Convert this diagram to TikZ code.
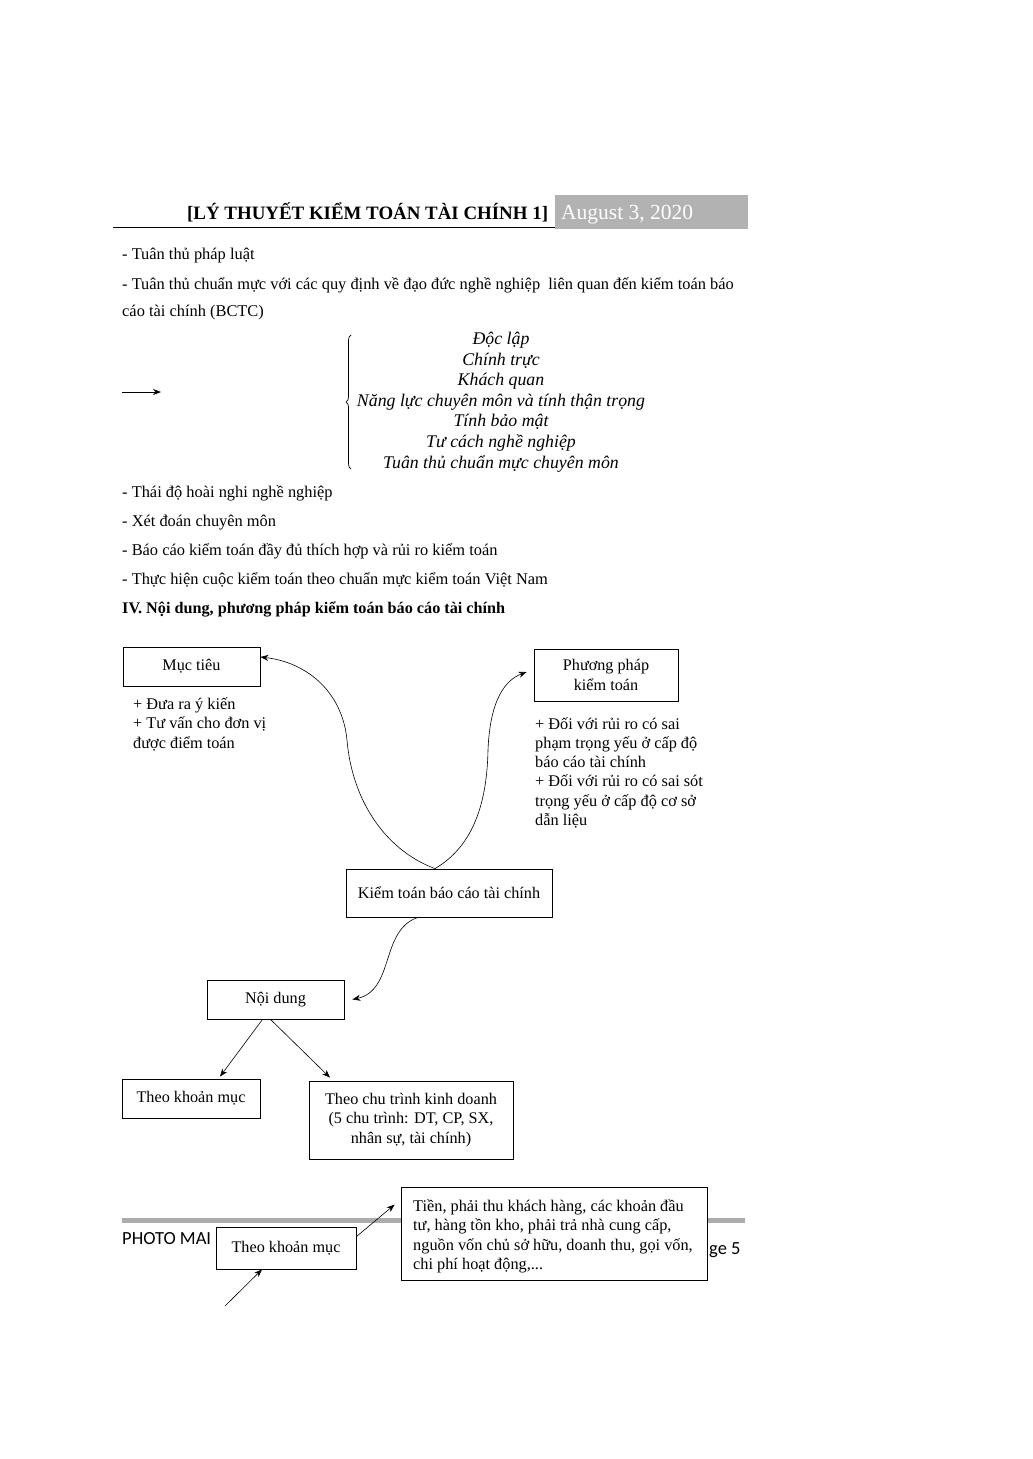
\documentclass[tikz,border=0pt]{standalone}
\usepackage{fontspec}
\setmainfont{Liberation Serif}
\newfontfamily\calib{Carlito}
\usetikzlibrary{arrows.meta,decorations.pathreplacing}
\begin{document}
\begin{tikzpicture}[x=1pt,y=-1pt,
  txt/.style={anchor=base west,inner sep=0,font=\fontsize{16.4}{19}\selectfont},
  itl/.style={anchor=base,inner sep=0,font=\fontsize{17.8}{20}\selectfont\itshape},
  box/.style={draw,line width=0.8pt,fill=white,inner sep=0,align=center,font=\fontsize{16.2}{19.6}\selectfont},
  sm/.style={anchor=base west,inner sep=0,font=\fontsize{16.3}{19}\selectfont},
  arr/.style={-{Stealth[length=8pt,width=6pt]},line width=0.6pt}]
\useasboundingbox (0,0) rectangle (1033,1459);
\fill[white] (0,0) rectangle (1033,1459);
% header
\node[anchor=base west,inner sep=0,font=\fontsize{18.9}{21}\selectfont\bfseries] (title) at (187,219) {[LÝ THUYẾT KIỂM TOÁN TÀI CHÍNH 1]};
\node[fill=gray!60,minimum width=193pt,minimum height=34pt,inner sep=0,anchor=north west] (date) at (555,195) {};
\node[anchor=base west,inner sep=0,text=white,font=\fontsize{21.5}{22}\selectfont] (datet) at (561,219) {August 3, 2020};
\draw[line width=0.8pt] (113,227.5) -- (555,227.5);
% bullet text
\node[txt] (l1) at (122,259) {- Tuân thủ pháp luật};
\node[txt] (l2) at (122,289) {- Tuân thủ chuẩn mực với các quy định về đạo đức nghề nghiệp\ \ liên quan đến kiểm toán báo};
\node[txt] (l3) at (122,316) {cáo tài chính (BCTC)};
\coordinate (a1) at (122,392);
\coordinate (a2) at (161,392);
\draw[arr] (a1) -- (a2);
\draw[line width=0.7pt,decorate,decoration={brace,amplitude=5pt}] (351,469) -- (351,335);
\node[itl] (i1) at (501,344.5) {Độc lập};
\node[itl] (i2) at (501,365) {Chính trực};
\node[itl] (i3) at (501,385.5) {Khách quan};
\node[itl] (i4) at (501,406) {Năng lực chuyên môn và tính thận trọng};
\node[itl] (i5) at (501,426.5) {Tính bảo mật};
\node[itl] (i6) at (501,447) {Tư cách nghề nghiệp};
\node[itl] (i7) at (501,468) {Tuân thủ chuẩn mực chuyên môn};
\node[txt] (l4) at (122,497) {- Thái độ hoài nghi nghề nghiệp};
\node[txt] (l5) at (122,526) {- Xét đoán chuyên môn};
\node[txt] (l6) at (122,555) {- Báo cáo kiểm toán đầy đủ thích hợp và rủi ro kiểm toán};
\node[txt] (l7) at (122,584) {- Thực hiện cuộc kiểm toán theo chuẩn mực kiểm toán Việt Nam};
\node[txt,font=\fontsize{16.2}{19}\selectfont\bfseries] (l8) at (122,613) {IV. Nội dung, phương pháp kiểm toán báo cáo tài chính};
% diagram boxes
\node[box,minimum width=137pt,minimum height=39pt] (mt) at (191.5,666.5) {Mục tiêu};
\node[box,minimum width=144pt,minimum height=52pt] (pp) at (606,675) {Phương pháp\\kiểm toán};
\node[box,minimum width=206pt,minimum height=48pt] (kt) at (449,893) {Kiểm toán báo cáo tài chính};
\node[box,minimum width=137pt,minimum height=39pt] (nd) at (275.5,999.5) {Nội dung};
\node[box,minimum width=138pt,minimum height=39pt] (km) at (191,1098.5) {Theo khoản mục};
\node[box,minimum width=204pt,minimum height=78pt] (ct) at (411,1120) {Theo chu trình kinh doanh\\(5 chu trình: DT, CP, SX,\\nhân sự, tài chính)};
% side texts
\node[sm] (m1) at (133,709) {+ Đưa ra ý kiến};
\node[sm] (m2) at (133,728.5) {+ Tư vấn cho đơn vị};
\node[sm] (m3) at (133,748) {được điểm toán};
\node[sm] (p1) at (535,729) {+ Đối với rủi ro có sai};
\node[sm] (p2) at (535,748.3) {phạm trọng yếu ở cấp độ};
\node[sm] (p3) at (535,767.6) {báo cáo tài chính};
\node[sm] (p4) at (535,786.9) {+ Đối với rủi ro có sai sót};
\node[sm] (p5) at (535,806.2) {trọng yếu ở cấp độ cơ sở};
\node[sm] (p6) at (535,825.5) {dẫn liệu};
% curves
\draw[arr] ([xshift=-14pt]kt.north) .. controls (385,850) and (352,800) .. (347,740) .. controls (342,690) and (305,662) .. (mt.east |- 0,657);
\draw[arr] ([xshift=-14pt]kt.north) .. controls (475,845) and (487,800) .. (488,750) .. controls (490,700) and (505,680) .. ([xshift=-7pt]pp.west |- 0,672);
\draw[arr] ([xshift=-31pt]kt.south) .. controls (380,930) and (395,990) .. ([xshift=8pt]nd.east);
\draw[arr] ([xshift=-13pt]nd.south) -- ([xshift=29pt,yshift=2pt]km.north);
\draw[arr] ([xshift=-5pt]nd.south) -- ([xshift=-81pt,yshift=3pt]ct.north);
% footer
\draw[line width=4.5pt,gray!65] (122,1220.5) -- (745,1220.5);
\node[anchor=base west,inner sep=0,font=\fontsize{18.5}{20}\selectfont\calib] (ph) at (122,1244) {PHOTO MAI};
\node[anchor=base west,inner sep=0,font=\fontsize{18.5}{20}\selectfont\calib] (pg) at (709,1254) {ge 5};
\node[box,minimum width=140pt,minimum height=42pt] (km2) at (286,1248) {Theo khoản mục};
\node[box,minimum width=306pt,minimum height=93pt] (ti) at (554,1233.5) {};
\node[sm] (t1) at (413,1211) {Tiền, phải thu khách hàng, các khoản đầu};
\node[sm] (t2) at (413,1230.5) {tư, hàng tồn kho, phải trả nhà cung cấp,};
\node[sm] (t3) at (413,1250) {nguồn vốn chủ sở hữu, doanh thu, gọi vốn,};
\node[sm] (t4) at (413,1269.5) {chi phí hoạt động,...};
\draw[arr] ([yshift=-10pt]km2.north east) -- ([xshift=-6pt,yshift=-18pt]ti.north west);
\coordinate (fe) at (225,1306);
\draw[arr] (fe) -- ([xshift=-24pt]km2.south);
\end{tikzpicture}
\end{document}
